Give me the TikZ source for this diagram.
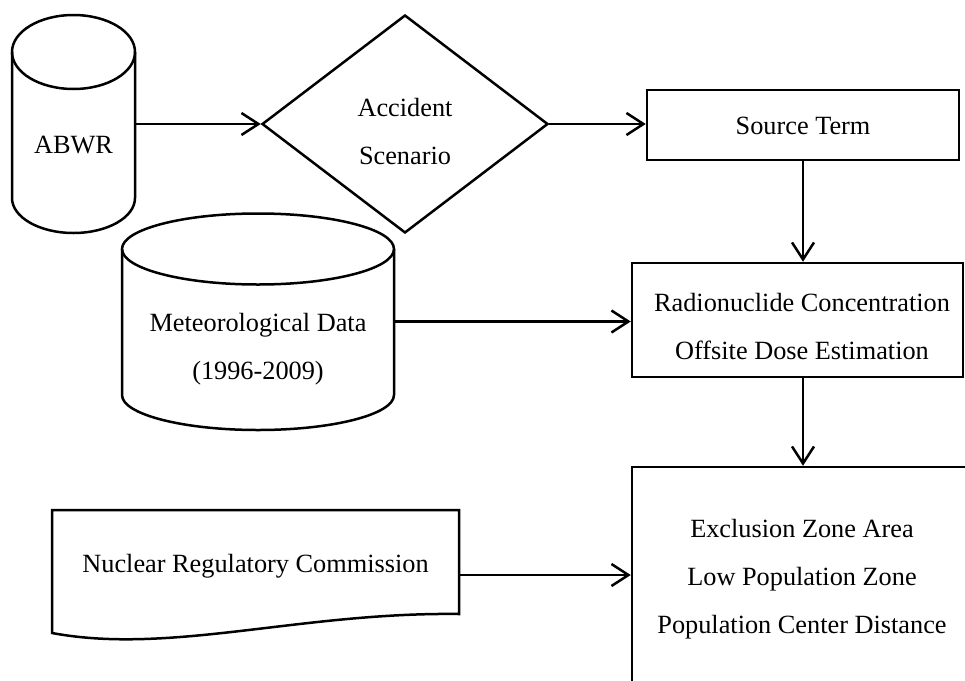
\documentclass[tikz,border=0pt]{standalone}
\usepackage{fontspec}
\setmainfont{Liberation Serif}
\usetikzlibrary{arrows.meta,shapes.geometric}
\newcommand\tlines[1]{\begin{tabular}[t]{@{}c@{}}#1\end{tabular}}
\begin{document}
\begin{tikzpicture}[x=1pt,y=1pt,
  lw/.style={line width=2.5pt},
  shapebox/.style={lw, draw=black, inner sep=0pt, rectangle},
  area/.style={inner sep=0pt, rectangle},
  txt/.style={inner sep=0pt, anchor=base, font=\fontsize{26.3}{48}\selectfont},
  arr/.style={lw, -{Straight Barb[length=17pt,width=22pt,line width=2.5pt]}}]
\clip (0,0) rectangle (965,-680);
\fill[white] (0,0) rectangle (965,-680);

% ABWR cylinder
\node[area, minimum width=123pt, minimum height=218pt] (abwr) at (73.5,-124) {};
\draw[lw] (73.5,-52) ellipse [x radius=61.5, y radius=37];
\draw[lw] (12,-52) -- (12,-198) arc [start angle=180, end angle=360, x radius=61.5, y radius=35] -- (135,-52);
\node[txt] (tabwr) at (73.5,-153) {ABWR};

% Accident scenario diamond
\node[lw, draw, diamond, inner sep=0pt, minimum width=286pt, minimum height=218pt] (acc) at (405,-124) {};
\node[txt] (tacc) at (405,-116) {\tlines{Accident\\Scenario}};

% Source term
\node[shapebox, minimum width=312pt, minimum height=70pt] (src) at (803,-125) {};
\node[txt] (tsrc) at (803,-134) {Source Term};

% Meteorological cylinder
\node[area, minimum width=272pt, minimum height=217pt] (met) at (258,-321.5) {};
\draw[lw] (258,-249) ellipse [x radius=136, y radius=35.5];
\draw[lw] (122,-249) -- (122,-395) arc [start angle=180, end angle=360, x radius=136, y radius=35] -- (394,-249);
\node[txt] (tmet) at (258,-331) {\tlines{Meteorological Data\\(1996-2009)}};

% Radionuclide box
\node[shapebox, minimum width=331pt, minimum height=114pt] (rad) at (797.5,-320) {};
\node[txt] (trad) at (802,-311) {\tlines{Radionuclide Concentration\\Offsite Dose Estimation}};

% Exclusion box
\node[shapebox, minimum width=342pt, minimum height=216pt] (exc) at (803,-575) {};
\node[txt] (texc) at (802,-537) {\tlines{Exclusion Zone Area\\Low Population Zone\\Population Center Distance}};

% NRC document
\node[area, minimum width=407pt, minimum height=123pt] (nrc) at (255.5,-571.5) {};
\draw[lw, line join=miter] (52,-633) -- (52,-510) -- (459,-510) -- (459,-614)
  .. controls (300,-612) and (170,-655) .. (52,-633) -- cycle;
\node[txt] (tnrc) at (255.5,-572) {Nuclear Regulatory Commission};

% connectors
\draw[arr] (abwr.east) -- (acc.west);
\draw[arr] (acc.east) -- (acc.east -| src.west);
\draw[arr] (src.south) -- (src.south |- rad.north);
\draw[arr] (met.east) -- (met.east -| rad.west);
\draw[arr] (src.south |- rad.south) -- (exc.north);
\draw[arr] (nrc.east |- exc.west) -- (exc.west);
\end{tikzpicture}
\end{document}
